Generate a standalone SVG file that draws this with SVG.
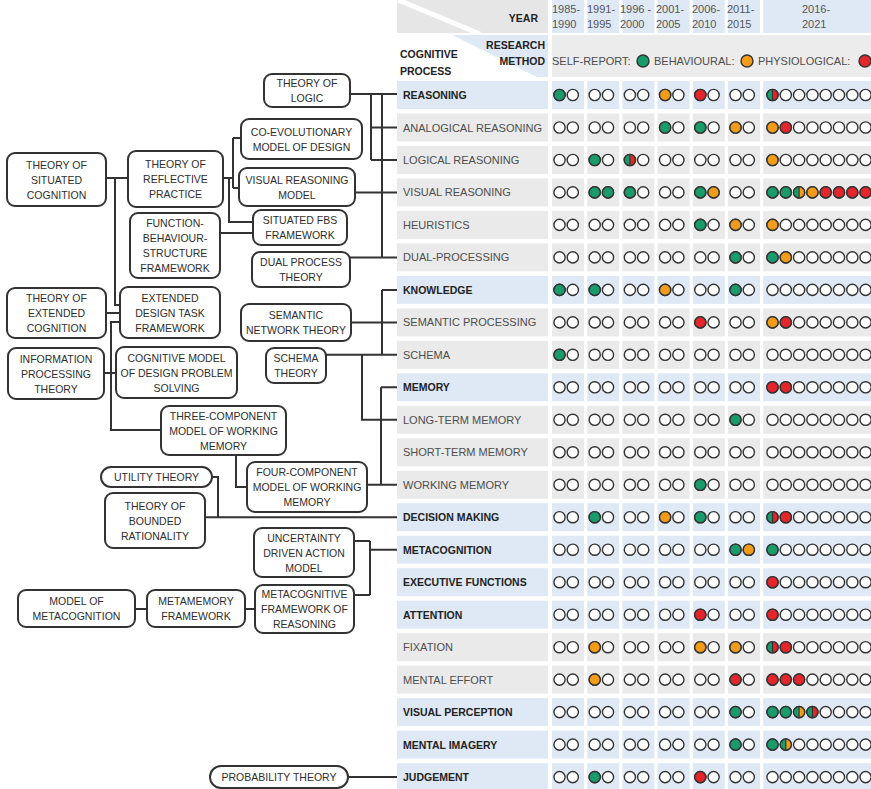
<svg xmlns="http://www.w3.org/2000/svg" xmlns:xlink="http://www.w3.org/1999/xlink" width="871" height="789" viewBox="0 0 871 789">
<style>
  .box{fill:#fff;stroke:#333;stroke-width:2}
  .nt{font-family:'Liberation Sans',Arial,sans-serif;font-size:10.5px;fill:#2e2e2e;text-anchor:middle}
  .lb{font-family:'Liberation Sans',Arial,sans-serif;font-size:11px;fill:#4d4d4d}
  .lbb{font-family:'Liberation Sans',Arial,sans-serif;font-size:10.5px;font-weight:bold;fill:#222}
  .yr{font-family:'Liberation Sans',Arial,sans-serif;font-size:11px;fill:#555}
  .hd{font-family:'Liberation Sans',Arial,sans-serif;font-size:10.5px;font-weight:bold;fill:#222}
  .lg{font-family:'Liberation Sans',Arial,sans-serif;font-size:11px;fill:#4d4d4d}
  #connectors path{fill:none;stroke:#333;stroke-width:2}
  .sub{fill:#eaeaea}
  .cat{fill:#dfe9f5}
</style>
<defs>
  <circle id="e" r="5.6" fill="#fff" stroke="#333" stroke-width="1.4"/>
  <circle id="g" r="5.6" fill="#1a9b6c" stroke="#333" stroke-width="1.4"/>
  <circle id="o" r="5.6" fill="#f39c1a" stroke="#333" stroke-width="1.4"/>
  <circle id="r" r="5.6" fill="#e2262b" stroke="#333" stroke-width="1.4"/>
  <g id="gr">
    <path d="M0,-5.6A5.6,5.6 0 0 0 0,5.6Z" fill="#1a9b6c"/>
    <path d="M0,-5.6A5.6,5.6 0 0 1 0,5.6Z" fill="#e2262b"/>
    <line x1="0" y1="-5.6" x2="0" y2="5.6" stroke="#333" stroke-width="1.2"/>
    <circle r="5.6" fill="none" stroke="#333" stroke-width="1.4"/>
  </g>
  <g id="go">
    <path d="M0,-5.6A5.6,5.6 0 0 0 0,5.6Z" fill="#1a9b6c"/>
    <path d="M0,-5.6A5.6,5.6 0 0 1 0,5.6Z" fill="#f39c1a"/>
    <line x1="0" y1="-5.6" x2="0" y2="5.6" stroke="#333" stroke-width="1.2"/>
    <circle r="5.6" fill="none" stroke="#333" stroke-width="1.4"/>
  </g>
  <!-- row background: label cell + seven period cells -->
  <g id="cells">
    <rect x="397" y="-14" width="151" height="28"/>
    <rect x="552" y="-14" width="32" height="28"/>
    <rect x="587.2" y="-14" width="32" height="28"/>
    <rect x="622.4" y="-14" width="32" height="28"/>
    <rect x="657.6" y="-14" width="32" height="28"/>
    <rect x="692.8" y="-14" width="32" height="28"/>
    <rect x="728" y="-14" width="32" height="28"/>
    <rect x="763.2" y="-14" width="108" height="28"/>
  </g>
  <!-- empty markers for every slot of a row -->
  <g id="empties">
    <use href="#e" x="559.5"/><use href="#e" x="572.8"/>
    <use href="#e" x="594.7"/><use href="#e" x="608"/>
    <use href="#e" x="629.9"/><use href="#e" x="643.2"/>
    <use href="#e" x="665.1"/><use href="#e" x="678.4"/>
    <use href="#e" x="700.3"/><use href="#e" x="713.6"/>
    <use href="#e" x="735.5"/><use href="#e" x="748.8"/>
    <use href="#e" x="772.5"/><use href="#e" x="785.8"/><use href="#e" x="799.1"/><use href="#e" x="812.4"/>
    <use href="#e" x="825.7"/><use href="#e" x="839"/><use href="#e" x="852.3"/><use href="#e" x="865.6"/>
  </g>
</defs>

<rect width="871" height="789" fill="#fff"/>

<!-- table header -->
<g id="header">
  <rect x="397" y="0" width="151" height="33" fill="#e6e6e6"/>
  <line x1="398" y1="0" x2="480" y2="34" stroke="#fff" stroke-width="5"/>
  <polygon points="452,35 548,35 548,77 537,77" fill="#dfe9f5"/>
  <text class="hd" x="538" y="22" text-anchor="end">YEAR</text>
  <text class="hd" x="545" y="49" text-anchor="end">RESEARCH</text>
  <text class="hd" x="545" y="65" text-anchor="end">METHOD</text>
  <text class="hd" x="400" y="58">COGNITIVE</text>
  <text class="hd" x="400" y="75">PROCESS</text>
  <g fill="#dfe9f5">
    <rect x="552" y="0" width="32" height="33"/>
    <rect x="587.2" y="0" width="32" height="33"/>
    <rect x="622.4" y="0" width="32" height="33"/>
    <rect x="657.6" y="0" width="32" height="33"/>
    <rect x="692.8" y="0" width="32" height="33"/>
    <rect x="728" y="0" width="32" height="33"/>
    <rect x="763.2" y="0" width="108" height="33"/>
  </g>
  <text class="yr" x="552" y="13">1985-</text><text class="yr" x="552" y="28">1990</text>
  <text class="yr" x="587" y="13">1991-</text><text class="yr" x="587" y="28">1995</text>
  <text class="yr" x="620" y="13">1996 -</text><text class="yr" x="620" y="28">2000</text>
  <text class="yr" x="656" y="13">2001-</text><text class="yr" x="656" y="28">2005</text>
  <text class="yr" x="692" y="13">2006-</text><text class="yr" x="692" y="28">2010</text>
  <text class="yr" x="727" y="13">2011-</text><text class="yr" x="727" y="28">2015</text>
  <text class="yr" x="802" y="13">2016-</text><text class="yr" x="802" y="28">2021</text>
  <rect x="552" y="35" width="319" height="42" fill="#ececec"/>
  <text class="lg" x="552" y="65">SELF-REPORT:</text>
  <circle cx="643" cy="61" r="6" fill="#1a9b6c" stroke="#333" stroke-width="1.4"/>
  <text class="lg" x="654" y="65">BEHAVIOURAL:</text>
  <circle cx="747" cy="61" r="6" fill="#f39c1a" stroke="#333" stroke-width="1.4"/>
  <text class="lg" x="758" y="65">PHYSIOLOGICAL:</text>
  <circle cx="865" cy="61" r="6" fill="#e2262b" stroke="#333" stroke-width="1.4"/>
</g>

<!-- table rows -->
<g id="rows">
  <g id="row-reasoning" transform="translate(0,95)">
    <use href="#cells" class="cat"/><text class="lbb" x="403" y="4">REASONING</text><use href="#empties"/>
    <use href="#g" x="559.5"/><use href="#o" x="665.1"/><use href="#r" x="700.3"/><use href="#gr" x="772.5"/>
  </g>
  <g id="row-analogical" transform="translate(0,127.5)">
    <use href="#cells" class="sub"/><text class="lb" x="403" y="4">ANALOGICAL REASONING</text><use href="#empties"/>
    <use href="#g" x="665.1"/><use href="#g" x="700.3"/><use href="#o" x="735.5"/><use href="#o" x="772.5"/><use href="#r" x="785.8"/>
  </g>
  <g id="row-logical" transform="translate(0,160)">
    <use href="#cells" class="sub"/><text class="lb" x="403" y="4">LOGICAL REASONING</text><use href="#empties"/>
    <use href="#g" x="594.7"/><use href="#gr" x="629.9"/><use href="#o" x="772.5"/>
  </g>
  <g id="row-visual-reasoning" transform="translate(0,192.4)">
    <use href="#cells" class="sub"/><text class="lb" x="403" y="4">VISUAL REASONING</text><use href="#empties"/>
    <use href="#g" x="594.7"/><use href="#g" x="608"/><use href="#g" x="629.9"/><use href="#g" x="700.3"/><use href="#o" x="713.6"/>
    <use href="#g" x="772.5"/><use href="#g" x="785.8"/><use href="#go" x="799.1"/><use href="#o" x="812.4"/>
    <use href="#r" x="825.7"/><use href="#r" x="839"/><use href="#r" x="852.3"/><use href="#r" x="865.6"/>
  </g>
  <g id="row-heuristics" transform="translate(0,224.9)">
    <use href="#cells" class="sub"/><text class="lb" x="403" y="4">HEURISTICS</text><use href="#empties"/>
    <use href="#g" x="700.3"/><use href="#o" x="735.5"/><use href="#o" x="772.5"/>
  </g>
  <g id="row-dual" transform="translate(0,257.4)">
    <use href="#cells" class="sub"/><text class="lb" x="403" y="4">DUAL-PROCESSING</text><use href="#empties"/>
    <use href="#g" x="735.5"/><use href="#g" x="772.5"/><use href="#o" x="785.8"/>
  </g>
  <g id="row-knowledge" transform="translate(0,289.9)">
    <use href="#cells" class="cat"/><text class="lbb" x="403" y="4">KNOWLEDGE</text><use href="#empties"/>
    <use href="#g" x="559.5"/><use href="#g" x="594.7"/><use href="#o" x="665.1"/><use href="#g" x="735.5"/>
  </g>
  <g id="row-semantic" transform="translate(0,322.4)">
    <use href="#cells" class="sub"/><text class="lb" x="403" y="4">SEMANTIC PROCESSING</text><use href="#empties"/>
    <use href="#r" x="700.3"/><use href="#o" x="772.5"/><use href="#r" x="785.8"/>
  </g>
  <g id="row-schema" transform="translate(0,354.8)">
    <use href="#cells" class="sub"/><text class="lb" x="403" y="4">SCHEMA</text><use href="#empties"/>
    <use href="#g" x="559.5"/>
  </g>
  <g id="row-memory" transform="translate(0,387.3)">
    <use href="#cells" class="cat"/><text class="lbb" x="403" y="4">MEMORY</text><use href="#empties"/>
    <use href="#r" x="772.5"/><use href="#r" x="785.8"/>
  </g>
  <g id="row-long-term" transform="translate(0,419.8)">
    <use href="#cells" class="sub"/><text class="lb" x="403" y="4">LONG-TERM MEMORY</text><use href="#empties"/>
    <use href="#g" x="735.5"/>
  </g>
  <g id="row-short-term" transform="translate(0,452.3)">
    <use href="#cells" class="sub"/><text class="lb" x="403" y="4">SHORT-TERM MEMORY</text><use href="#empties"/>
  </g>
  <g id="row-working" transform="translate(0,484.8)">
    <use href="#cells" class="sub"/><text class="lb" x="403" y="4">WORKING MEMORY</text><use href="#empties"/>
    <use href="#g" x="700.3"/>
  </g>
  <g id="row-decision" transform="translate(0,517.2)">
    <use href="#cells" class="cat"/><text class="lbb" x="403" y="4">DECISION MAKING</text><use href="#empties"/>
    <use href="#g" x="594.7"/><use href="#o" x="665.1"/><use href="#g" x="700.3"/><use href="#gr" x="772.5"/><use href="#r" x="785.8"/>
  </g>
  <g id="row-metacognition" transform="translate(0,549.7)">
    <use href="#cells" class="cat"/><text class="lbb" x="403" y="4">METACOGNITION</text><use href="#empties"/>
    <use href="#g" x="735.5"/><use href="#o" x="748.8"/><use href="#g" x="772.5"/>
  </g>
  <g id="row-executive" transform="translate(0,582.2)">
    <use href="#cells" class="cat"/><text class="lbb" x="403" y="4">EXECUTIVE FUNCTIONS</text><use href="#empties"/>
    <use href="#r" x="772.5"/>
  </g>
  <g id="row-attention" transform="translate(0,614.7)">
    <use href="#cells" class="cat"/><text class="lbb" x="403" y="4">ATTENTION</text><use href="#empties"/>
    <use href="#r" x="700.3"/><use href="#r" x="772.5"/>
  </g>
  <g id="row-fixation" transform="translate(0,647.2)">
    <use href="#cells" class="sub"/><text class="lb" x="403" y="4">FIXATION</text><use href="#empties"/>
    <use href="#o" x="594.7"/><use href="#o" x="700.3"/><use href="#o" x="735.5"/><use href="#gr" x="772.5"/><use href="#r" x="785.8"/>
  </g>
  <g id="row-mental-effort" transform="translate(0,679.6)">
    <use href="#cells" class="sub"/><text class="lb" x="403" y="4">MENTAL EFFORT</text><use href="#empties"/>
    <use href="#o" x="594.7"/><use href="#r" x="735.5"/><use href="#r" x="772.5"/><use href="#r" x="785.8"/><use href="#r" x="799.1"/>
  </g>
  <g id="row-visual-perception" transform="translate(0,712.1)">
    <use href="#cells" class="cat"/><text class="lbb" x="403" y="4">VISUAL PERCEPTION</text><use href="#empties"/>
    <use href="#g" x="735.5"/><use href="#g" x="772.5"/><use href="#g" x="785.8"/><use href="#go" x="799.1"/><use href="#gr" x="812.4"/>
  </g>
  <g id="row-mental-imagery" transform="translate(0,744.6)">
    <use href="#cells" class="cat"/><text class="lbb" x="403" y="4">MENTAL IMAGERY</text><use href="#empties"/>
    <use href="#g" x="735.5"/><use href="#g" x="772.5"/><use href="#go" x="785.8"/>
  </g>
  <g id="row-judgement" transform="translate(0,777.1)">
    <use href="#cells" class="cat"/><text class="lbb" x="403" y="4">JUDGEMENT</text><use href="#empties"/>
    <use href="#g" x="594.7"/><use href="#r" x="700.3"/>
  </g>
</g>

<!-- connectors between theories and table rows -->
<g id="connectors">
  <path d="M350,94H397M371,94V160M371,127.5H397M371,160H397M382,94V257.4M350,257.4H397M355,192.4H397"/>
  <path d="M106,178H128M115,178V305H120M106,313H120M120,322H111V430H161M104,373H116"/>
  <path d="M223,178H233M233,138V188M233,138H241M233,188H239M229,178V222H253M220,233H253"/>
  <path d="M351,322.4H397M382,289.9V354.8M382,289.9H397M326,354.8H397M362,354.8V419.8H397"/>
  <path d="M381,387.3V484.8M381,387.3H397M367,484.8H397M236,455V487H247"/>
  <path d="M212,477H218V517.2M205,517.2H397"/>
  <path d="M354,541H370M370,541V595M354,595H370M370,549.7H397M135,609H147M245,609H255"/>
  <path d="M348,777H397"/>
</g>

<!-- theory / model nodes -->
<g id="nodes">
  <g id="n-logic"><rect class="box" x="264" y="74" width="86" height="33" rx="8"/>
    <text class="nt" x="307" y="87">THEORY OF</text><text class="nt" x="307" y="102">LOGIC</text></g>
  <g id="n-coevolutionary"><rect class="box" x="241" y="119" width="121" height="40" rx="8"/>
    <text class="nt" x="301.5" y="135.5">CO-EVOLUTIONARY</text><text class="nt" x="301.5" y="150.5">MODEL OF DESIGN</text></g>
  <g id="n-visual-reasoning"><rect class="box" x="239" y="168" width="116" height="38" rx="8"/>
    <text class="nt" x="297" y="183.5">VISUAL REASONING</text><text class="nt" x="297" y="198.5">MODEL</text></g>
  <g id="n-situated-fbs"><rect class="box" x="253" y="210" width="94" height="35" rx="8"/>
    <text class="nt" x="300" y="224">SITUATED FBS</text><text class="nt" x="300" y="239">FRAMEWORK</text></g>
  <g id="n-dual-process"><rect class="box" x="252" y="252" width="98" height="35" rx="8"/>
    <text class="nt" x="301" y="266">DUAL PROCESS</text><text class="nt" x="301" y="281">THEORY</text></g>
  <g id="n-situated-cognition"><rect class="box" x="7" y="153" width="99" height="53" rx="8"/>
    <text class="nt" x="56.5" y="168.5">THEORY OF</text><text class="nt" x="56.5" y="183.5">SITUATED</text><text class="nt" x="56.5" y="198.5">COGNITION</text></g>
  <g id="n-reflective-practice"><rect class="box" x="128" y="151" width="95" height="56" rx="8"/>
    <text class="nt" x="175.5" y="168">THEORY OF</text><text class="nt" x="175.5" y="183">REFLECTIVE</text><text class="nt" x="175.5" y="198">PRACTICE</text></g>
  <g id="n-fbs"><rect class="box" x="130" y="213" width="90" height="65" rx="8"/>
    <text class="nt" x="175" y="227">FUNCTION-</text><text class="nt" x="175" y="242">BEHAVIOUR-</text><text class="nt" x="175" y="257">STRUCTURE</text><text class="nt" x="175" y="272">FRAMEWORK</text></g>
  <g id="n-extended-cognition"><rect class="box" x="7" y="288" width="99" height="50" rx="8"/>
    <text class="nt" x="56.5" y="302">THEORY OF</text><text class="nt" x="56.5" y="317">EXTENDED</text><text class="nt" x="56.5" y="332">COGNITION</text></g>
  <g id="n-extended-design-task"><rect class="box" x="120" y="287" width="100" height="51" rx="8"/>
    <text class="nt" x="170" y="301.5">EXTENDED</text><text class="nt" x="170" y="316.5">DESIGN TASK</text><text class="nt" x="170" y="331.5">FRAMEWORK</text></g>
  <g id="n-semantic-network"><rect class="box" x="241" y="304" width="110" height="37" rx="8"/>
    <text class="nt" x="296" y="319">SEMANTIC</text><text class="nt" x="296" y="334">NETWORK THEORY</text></g>
  <g id="n-schema"><rect class="box" x="266" y="348" width="60" height="35" rx="8"/>
    <text class="nt" x="296" y="362">SCHEMA</text><text class="nt" x="296" y="377">THEORY</text></g>
  <g id="n-information-processing"><rect class="box" x="8" y="348" width="96" height="51" rx="8"/>
    <text class="nt" x="56" y="362.5">INFORMATION</text><text class="nt" x="56" y="377.5">PROCESSING</text><text class="nt" x="56" y="392.5">THEORY</text></g>
  <g id="n-cognitive-model"><rect class="box" x="116" y="347" width="121" height="51" rx="8"/>
    <text class="nt" x="176.5" y="361.5">COGNITIVE MODEL</text><text class="nt" x="176.5" y="376.5">OF DESIGN PROBLEM</text><text class="nt" x="176.5" y="391.5">SOLVING</text></g>
  <g id="n-three-component"><rect class="box" x="161" y="406" width="125" height="49" rx="8"/>
    <text class="nt" x="223.5" y="419.5">THREE-COMPONENT</text><text class="nt" x="223.5" y="434.5">MODEL OF WORKING</text><text class="nt" x="223.5" y="449.5">MEMORY</text></g>
  <g id="n-four-component"><rect class="box" x="247" y="462" width="120" height="50" rx="8"/>
    <text class="nt" x="307" y="476">FOUR-COMPONENT</text><text class="nt" x="307" y="491">MODEL OF WORKING</text><text class="nt" x="307" y="506">MEMORY</text></g>
  <g id="n-utility"><rect class="box" x="101" y="467" width="111" height="20" rx="10"/>
    <text class="nt" x="156.5" y="481">UTILITY THEORY</text></g>
  <g id="n-bounded-rationality"><rect class="box" x="105" y="493" width="100" height="55" rx="8"/>
    <text class="nt" x="155" y="509.5">THEORY OF</text><text class="nt" x="155" y="524.5">BOUNDED</text><text class="nt" x="155" y="539.5">RATIONALITY</text></g>
  <g id="n-uncertainty"><rect class="box" x="254" y="528" width="100" height="49" rx="8"/>
    <text class="nt" x="304" y="541.5">UNCERTAINTY</text><text class="nt" x="304" y="556.5">DRIVEN ACTION</text><text class="nt" x="304" y="571.5">MODEL</text></g>
  <g id="n-metacognitive-framework"><rect class="box" x="255" y="585" width="99" height="48" rx="8"/>
    <text class="nt" x="304.5" y="598">METACOGNITIVE</text><text class="nt" x="304.5" y="613">FRAMEWORK OF</text><text class="nt" x="304.5" y="628">REASONING</text></g>
  <g id="n-metamemory"><rect class="box" x="147" y="590" width="98" height="37" rx="8"/>
    <text class="nt" x="196" y="605">METAMEMORY</text><text class="nt" x="196" y="620">FRAMEWORK</text></g>
  <g id="n-model-metacognition"><rect class="box" x="18" y="590" width="117" height="37" rx="8"/>
    <text class="nt" x="76.5" y="605">MODEL OF</text><text class="nt" x="76.5" y="620">METACOGNITION</text></g>
  <g id="n-probability"><rect class="box" x="210" y="766" width="138" height="22" rx="11"/>
    <text class="nt" x="279" y="781">PROBABILITY THEORY</text></g>
</g>
</svg>
